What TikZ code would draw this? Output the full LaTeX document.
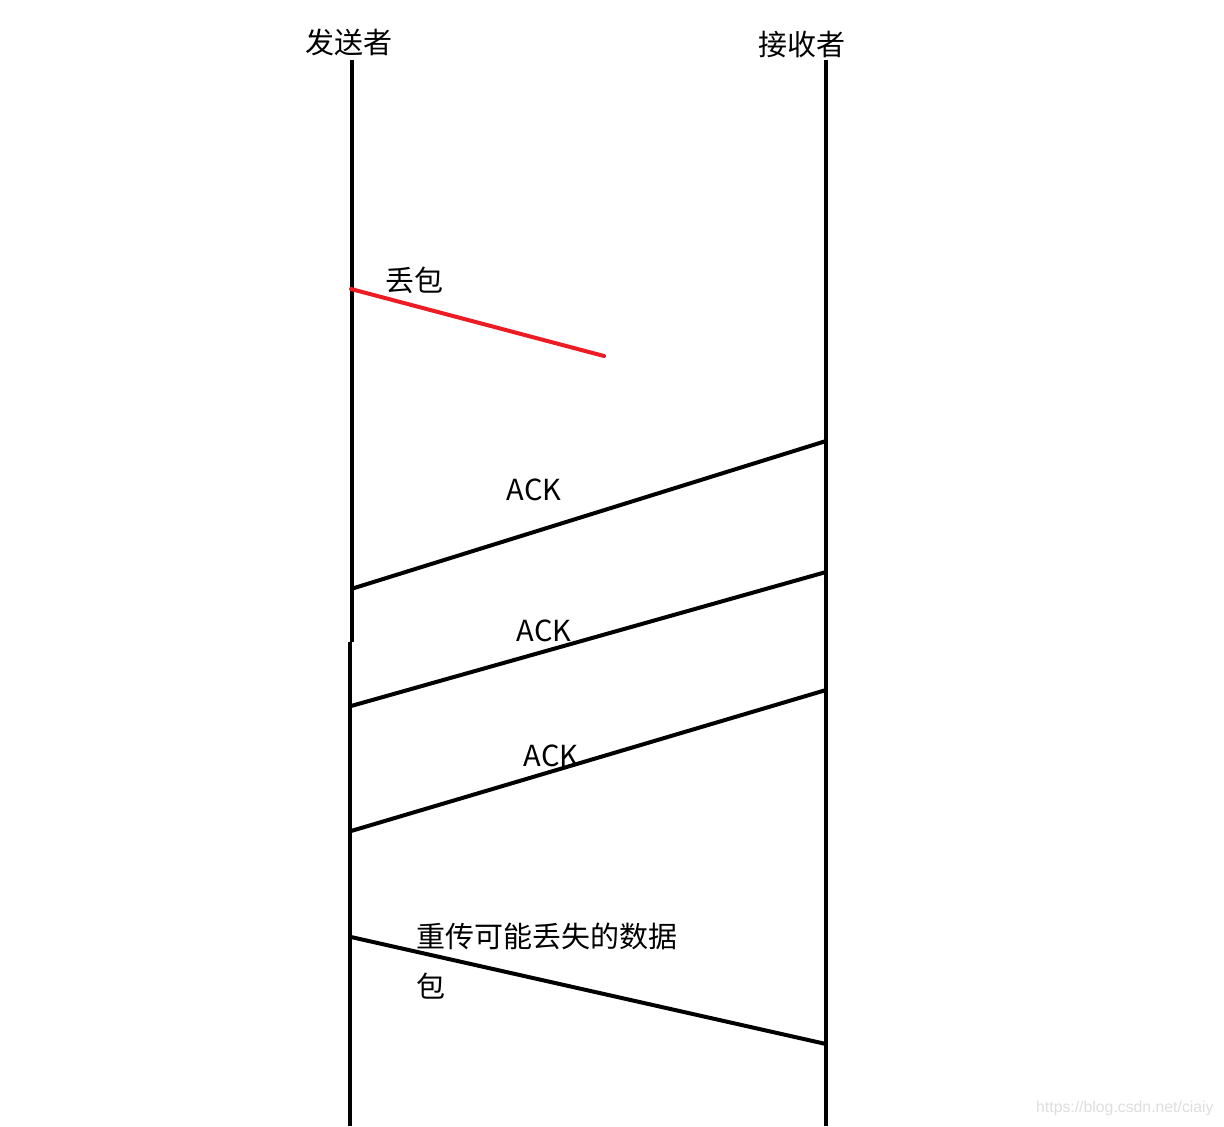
\documentclass[tikz,border=0pt]{standalone}
\usepackage{fontspec}
\setmainfont{Noto Sans CJK SC}
\newfontfamily\wmfont{Liberation Sans}
\definecolor{paintred}{RGB}{237,28,36}
\definecolor{wmgray}{RGB}{222,222,222}
\begin{document}
\begin{tikzpicture}[x=0.5pt,y=-0.5pt,
  lifeline/.style={line width=2pt,black},
  msg/.style={line width=2pt,black},
  lost/.style={line width=2pt,paintred,line cap=round},
  lbl/.style={inner sep=0pt,font=\fontsize{14.5pt}{17pt}\selectfont},
  wm/.style={inner sep=0pt,font=\wmfont\fontsize{7.9pt}{9pt}\selectfont,text=wmgray}]
\useasboundingbox (0,0) rectangle (1224,1126);
% lifeline end points
\coordinate (sTop) at (351.5,60);
\coordinate (sMid) at (351.5,642);
\coordinate (sMid2) at (350,642);
\coordinate (sBot) at (350,1126);
\coordinate (rTop) at (826,60);
\coordinate (rBot) at (826,1126);
% titles
\node[lbl] (sender) at (349,42) {发送者};
\node[lbl] (receiver) at (802,45) {接收者};
% lifelines
\draw[lifeline] (sTop) -- (sMid);
\draw[lifeline] (sMid2) -- (sBot);
\draw[lifeline] (rTop) -- (rBot);
% lost packet
\coordinate (l1) at (351,289);
\coordinate (l2) at (604,356);
\draw[lost] (l1) -- (l2);
\node[lbl] (lostlbl) at (414,280) {丢包};
% ACKs
\coordinate (a1r) at (826,441);
\coordinate (a1s) at (351,589);
\coordinate (a2r) at (826,572);
\coordinate (a2s) at (351,706);
\coordinate (a3r) at (826,690);
\coordinate (a3s) at (351,831);
\draw[msg] (a1r) -- (a1s);
\draw[msg] (a2r) -- (a2s);
\draw[msg] (a3r) -- (a3s);
\node[lbl] (ack1) at (534,490) {ACK};
\node[lbl] (ack2) at (544,631) {ACK};
\node[lbl] (ack3) at (551,756) {ACK};
% retransmission
\coordinate (rs) at (351,937);
\coordinate (rr) at (826,1044);
\draw[msg] (rs) -- (rr);
\node[lbl,anchor=west] (retx1) at (416,936) {重传可能丢失的数据};
\node[lbl,anchor=west] (retx2) at (416,986) {包};
% watermark
\node[wm,anchor=east] (wmark) at (1214,1108) {https://blog.csdn.net/ciaiy};
\end{tikzpicture}
\end{document}
